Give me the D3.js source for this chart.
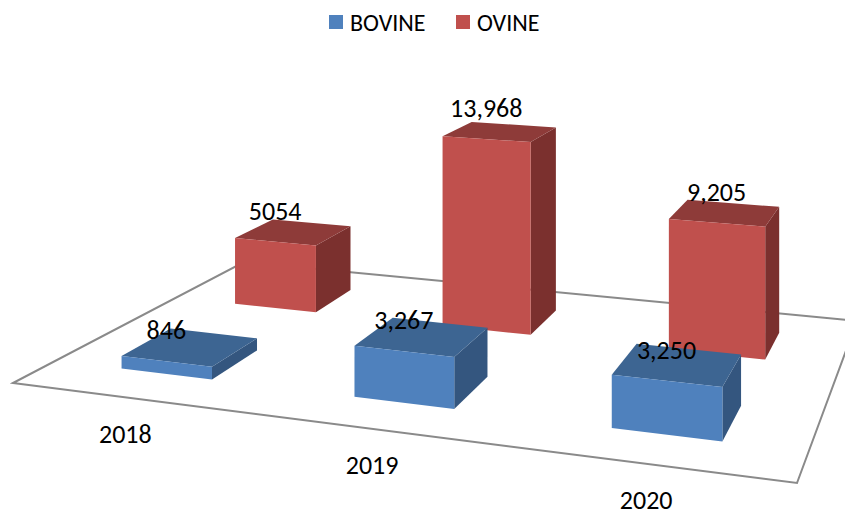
<!DOCTYPE html>
<html>
<head>
<meta charset="utf-8">
<script src="https://cdn.jsdelivr.net/npm/d3@7"></script>
<style>
  html, body { margin: 0; padding: 0; background: #fff; }
  svg { display: block; font-family: Carlito, Calibri, "Open Sans", sans-serif; }
</style>
</head>
<body>
<div id="chart"></div>
<script>
// Data

const years = ["2018", "2019", "2020"];
const seriesNames = ["BOVINE", "OVINE"];
const bovine = [846, 3267, 3250];
const ovine = [5054, 13968, 9205];
const bovineLabels = ["846", "3,267", "3,250"];
const ovineLabels = ["5054", "13,968", "9,205"];

// Config

const width = 845;
const height = 512;

const colors = {
  "BOVINE": { front: "#4f81bd", top: "#3d6592", side: "#34567f" },
  "OVINE": { front: "#c0504d", top: "#8e3b39", side: "#7b302e" }
};

// floor corners (front-left, front-right, back-right, back-left)
const floor = [[13, 383], [797, 483], [857, 321], [244, 262]];

// Square -> quad homography

function makeHomography(q) {
  const [[x0, y0], [x1, y1], [x2, y2], [x3, y3]] = q;
  const dx1 = x1 - x2, dx2 = x3 - x2, dx3 = x0 - x1 + x2 - x3;
  const dy1 = y1 - y2, dy2 = y3 - y2, dy3 = y0 - y1 + y2 - y3;
  const den = dx1 * dy2 - dx2 * dy1;
  const g = (dx3 * dy2 - dx2 * dy3) / den;
  const h = (dx1 * dy3 - dx3 * dy1) / den;
  return {
    a: x1 - x0 + g * x1, b: x3 - x0 + h * x3, c: x0,
    d: y1 - y0 + g * y1, e: y3 - y0 + h * y3, f: y0,
    g: g, h: h
  };
}

const H = makeHomography(floor);

// u: along categories, v: depth, z: height in world px
function project(u, v, z) {
  const w = H.g * u + H.h * v + 1;
  const x = (H.a * u + H.b * v + H.c) / w;
  const y = (H.d * u + H.e * v + H.f) / w;
  return [x, y - (z || 0) / w];
}

// Scales

const uScale = d3.scaleBand()
  .domain(years)
  .range([0, 1])
  .paddingInner(0.6)
  .paddingOuter(0.3);

const vScale = d3.scaleBand()
  .domain(seriesNames)
  .range([0, 1])
  .paddingInner(0.6)
  .paddingOuter(0.3);

const zScale = d3.scaleLinear()
  .domain([0, 14000])
  .range([0, 214]);

// Build bars, back series first so front ones overlap them

const bars = [];
seriesNames.slice().reverse().forEach((s) => {
  const values = s === "BOVINE" ? bovine : ovine;
  const labels = s === "BOVINE" ? bovineLabels : ovineLabels;
  years.forEach((yr, i) => {
    bars.push({ series: s, year: yr, value: values[i], label: labels[i] });
  });
});

const svg = d3.select("#chart")
  .append("svg")
  .attr("width", width)
  .attr("height", height)
  .attr("viewBox", [0, 0, width, height]);

// Floor

svg.append("polygon")
  .attr("points", [[0, 0], [1, 0], [1, 1], [0, 1]].map(p => project(p[0], p[1], 0).join(",")).join(" "))
  .attr("fill", "none")
  .attr("stroke", "#8a8a8a")
  .attr("stroke-width", 2);

// Bars

const line = d3.line();

const barG = svg.selectAll("g.bar")
  .data(bars)
  .join("g")
  .attr("class", "bar");

barG.each(function (d) {
  const g = d3.select(this);
  const u0 = uScale(d.year), u1 = u0 + uScale.bandwidth();
  const v0 = vScale(d.series), v1 = v0 + vScale.bandwidth();
  const z = zScale(d.value);
  const c = colors[d.series];

  const front = [project(u0, v0, 0), project(u1, v0, 0), project(u1, v0, z), project(u0, v0, z)];
  const side = [project(u1, v0, 0), project(u1, v1, 0), project(u1, v1, z), project(u1, v0, z)];
  const top = [project(u0, v0, z), project(u1, v0, z), project(u1, v1, z), project(u0, v1, z)];

  g.append("path").attr("d", line(side) + "Z").attr("fill", c.side);
  g.append("path").attr("d", line(top) + "Z").attr("fill", c.top);
  g.append("path").attr("d", line(front) + "Z").attr("fill", c.front);
});

// Value labels

svg.selectAll("text.value")
  .data(bars)
  .join("text")
  .attr("class", "value")
  .attr("x", d => project(uScale(d.year) + uScale.bandwidth() / 2, vScale(d.series), zScale(d.value))[0])
  .attr("y", d => project(uScale(d.year) + uScale.bandwidth() / 2, vScale(d.series), zScale(d.value))[1] - 31)
  .attr("text-anchor", "middle")
  .attr("dominant-baseline", "central")
  .attr("font-size", 26)
  .attr("fill", "#000")
  .text(d => d.label);

// Category labels

svg.selectAll("text.year")
  .data(years)
  .join("text")
  .attr("class", "year")
  .attr("x", d => project(uScale(d) + uScale.bandwidth() / 2, 0, 0)[0] - 2)
  .attr("y", d => project(uScale(d) + uScale.bandwidth() / 2, 0, 0)[1] + 36)
  .attr("text-anchor", "middle")
  .attr("dominant-baseline", "central")
  .attr("font-size", 26)
  .attr("fill", "#000")
  .text(d => d);

// Legend

const legendX = [329, 456];
const legend = svg.selectAll("g.legend")
  .data(seriesNames)
  .join("g")
  .attr("class", "legend")
  .attr("transform", (d, i) => `translate(${legendX[i]}, 15)`);

legend.append("rect")
  .attr("width", 14)
  .attr("height", 14)
  .attr("fill", d => colors[d].front);

legend.append("text")
  .attr("x", 21)
  .attr("y", 7)
  .attr("dominant-baseline", "central")
  .attr("font-size", 24)
  .attr("fill", "#000")
  .text(d => d);
</script>
</body>
</html>
